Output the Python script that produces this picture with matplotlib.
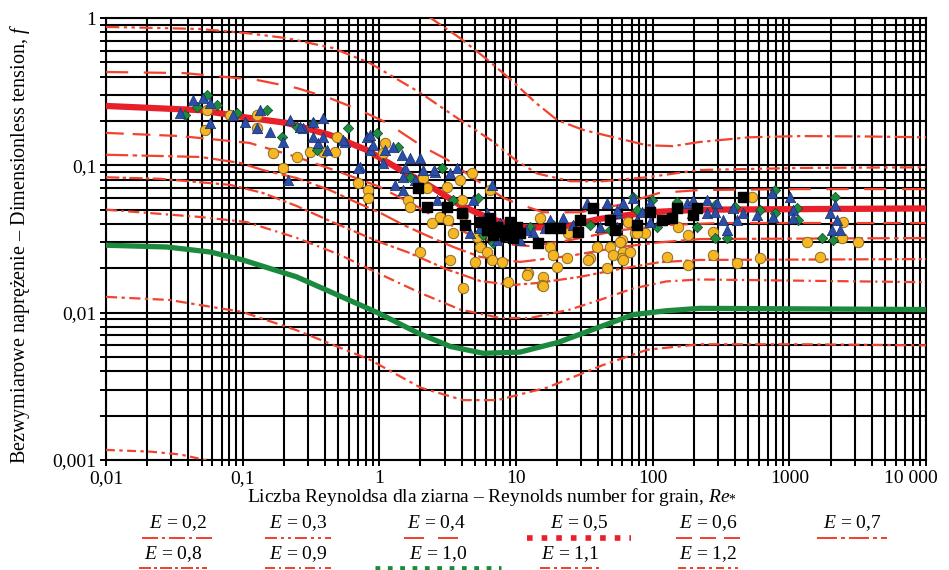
import numpy as np
import matplotlib.pyplot as plt
import matplotlib.transforms as mtransforms
from matplotlib.lines import Line2D

plt.rcParams['font.family'] = ['Liberation Serif', 'DejaVu Serif']
plt.rcParams['mathtext.fontset'] = 'custom'
plt.rcParams['mathtext.rm'] = 'Liberation Serif'
plt.rcParams['mathtext.it'] = 'Liberation Serif:italic'

# ---- curves f(Re) for each E ----
re_02 = [2.2, 3.9, 6.2, 9.5, 14, 20, 31, 55, 90, 140, 220, 510, 1200, 3700, 10000]
f_02 = [1.05, 0.73, 0.52, 0.37, 0.265, 0.203, 0.174, 0.153, 0.137, 0.135, 0.144, 0.155, 0.158, 0.157, 0.155]

re_03 = [0.01, 0.025, 0.049, 0.107, 0.21, 0.455, 0.85, 2.0, 3.9, 6.5, 10, 14.3, 25, 43, 91, 221, 1200, 10000]
f_03 = [0.87, 0.855, 0.842, 0.79, 0.73, 0.626, 0.495, 0.31, 0.203, 0.149, 0.108, 0.088, 0.078, 0.078, 0.083, 0.093, 0.096, 0.097]

re_04 = [0.01, 0.037, 0.127, 0.248, 0.433, 0.72, 1.14, 2.1, 3.15, 4.6, 8.1, 10, 15.8, 29.4, 57.6, 112, 221, 1200, 10000]
f_04 = [0.43, 0.423, 0.38, 0.335, 0.286, 0.237, 0.194, 0.133, 0.109, 0.085, 0.060, 0.0555, 0.048, 0.048, 0.054, 0.065, 0.068, 0.069, 0.069]

re_05 = [0.01, 0.049, 0.1, 0.21, 0.433, 0.81, 1.35, 2.27, 3.9, 6.5, 10.7, 20.5, 41, 93, 221, 10000]
f_05 = [0.253, 0.237, 0.213, 0.194, 0.161, 0.127, 0.096, 0.0738, 0.0537, 0.0433, 0.0382, 0.0376, 0.0433, 0.048, 0.050, 0.051]

re_06 = [0.01, 0.035, 0.112, 0.248, 0.513, 0.97, 1.69, 2.8, 4.6, 7.7, 12.7, 24.8, 57.6, 133, 309, 10000]
f_06 = [0.166, 0.158, 0.142, 0.114, 0.090, 0.0724, 0.0556, 0.0426, 0.0338, 0.0294, 0.0283, 0.0311, 0.0363, 0.0394, 0.0406, 0.0406]

re_07 = [0.01, 0.049, 0.095, 0.14, 0.248, 0.433, 0.68, 1.02, 1.5, 2.27, 3.48, 5.48, 10.7, 24.8, 57.6, 112, 221, 10000]
f_07 = [0.118, 0.114, 0.104, 0.093, 0.082, 0.068, 0.056, 0.0475, 0.0394, 0.0331, 0.0279, 0.0239, 0.0221, 0.0243, 0.0279, 0.030, 0.0316, 0.0321]

re_08 = [0.01, 0.025, 0.081, 0.14, 0.248, 0.433, 0.75, 1.02, 1.6, 3.15, 5.48, 9.4, 14.3, 29.4, 57.6, 112, 221, 10000]
f_08 = [0.083, 0.081, 0.0737, 0.065, 0.053, 0.042, 0.0338, 0.030, 0.0258, 0.0196, 0.0164, 0.0154, 0.0159, 0.0175, 0.0198, 0.0220, 0.0228, 0.0231]

re_09 = [0.01, 0.049, 0.107, 0.248, 0.513, 0.97, 2.0, 3.9, 7.7, 12.7, 24.8, 41, 72, 126, 221, 10000]
f_09 = [0.050, 0.0446, 0.0412, 0.0322, 0.0247, 0.0186, 0.0136, 0.0105, 0.0092, 0.0092, 0.0105, 0.0122, 0.0146, 0.0163, 0.0168, 0.0161]

re_10 = [0.01, 0.028, 0.058, 0.1, 0.248, 0.97, 1.9, 3.3, 5.76, 10.7, 20.5, 41, 72, 126, 221, 10000]
f_10 = [0.0287, 0.0279, 0.0258, 0.0228, 0.0175, 0.010, 0.0073, 0.0059, 0.0053, 0.0054, 0.0063, 0.0080, 0.0097, 0.0103, 0.0107, 0.0105]

re_11 = [0.01, 0.029, 0.1, 0.248, 0.85, 2.0, 4.1, 7.3, 16.9, 43, 91, 221, 1200, 10000]
f_11 = [0.0128, 0.0122, 0.0101, 0.0076, 0.0048, 0.0031, 0.00255, 0.00255, 0.0031, 0.0044, 0.0056, 0.0061, 0.0061, 0.0060]

re_12 = [0.01, 0.021, 0.035, 0.053, 0.065]
f_12 = [0.00117, 0.00114, 0.00109, 0.00100, 0.00095]

e_labels = ['0,2', '0,3', '0,4', '0,5', '0,6', '0,7', '0,8', '0,9', '1,0', '1,1', '1,2']
curves_re = [re_02, re_03, re_04, re_05, re_06, re_07, re_08, re_09, re_10, re_11, re_12]
curves_f = [f_02, f_03, f_04, f_05, f_06, f_07, f_08, f_09, f_10, f_11, f_12]

# ---- measurement points ----
blue_re = [0.0348, 0.0433, 0.0512, 0.0577, 0.085, 0.104, 0.127, 0.134, 0.158, 0.197, 0.222, 0.276, 0.327,
           0.356, 0.387, 0.414, 0.561, 0.81, 0.855, 0.722, 0.0577, 0.216, 0.263, 0.327, 0.387, 0.542, 0.855,
           0.9, 0.698, 1.1, 1.26, 1.47, 1.54, 1.49, 1.68, 1.98, 2.09, 2.55, 2.64, 3.7, 4.84, 6.67, 7.63, 7.26,
           8.6, 10.7, 13.3, 17.7, 22.1, 26.1, 33, 41.2, 46.3, 54.8, 60.7, 76.8, 95.5, 113, 134, 178, 197, 250,
           296, 71.8, 194, 250, 286, 327, 350, 387, 414, 458, 580, 746, 759, 1010, 1065, 1065, 1980, 2160,
           2230, 2050, 2350, 95.5, 54.8, 4.6, 5.45, 9.03, 11.9, 16.3, 1.31, 1.83,
           1.06, 1.49, 2.5, 3.29, 6.14, 54.8, 84]
blue_f = [0.227, 0.278, 0.286, 0.265, 0.220, 0.197, 0.179, 0.238, 0.168, 0.144, 0.203, 0.179, 0.156,
          0.142, 0.210, 0.127, 0.144, 0.156, 0.127, 0.0975, 0.194, 0.0795, 0.182, 0.197, 0.156, 0.149, 0.161,
          0.137, 0.096, 0.127, 0.133, 0.118, 0.096, 0.0833, 0.112, 0.112, 0.093, 0.090, 0.0582, 0.096, 0.0582,
          0.0736, 0.0406, 0.0311, 0.0353, 0.0311, 0.0353, 0.0426, 0.0439, 0.0394, 0.0555, 0.0382, 0.0555,
          0.0382, 0.0555, 0.0426, 0.0555, 0.0426, 0.0446, 0.0555, 0.0582, 0.0582, 0.0555, 0.060, 0.0475,
          0.0475, 0.0482, 0.0426, 0.0364, 0.0513, 0.0426, 0.0475, 0.046, 0.0649, 0.0446, 0.061, 0.0498,
          0.0439, 0.0475, 0.0538, 0.0426, 0.0364, 0.0364, 0.0412, 0.0475, 0.0348, 0.0376, 0.0332, 0.0364,
          0.0376, 0.0736, 0.0795,
          0.103, 0.068, 0.093, 0.0887, 0.0475, 0.0498, 0.0482]

green_re = [0.0379, 0.0463, 0.0548, 0.0649, 0.091, 0.151, 0.194, 0.25, 0.327, 0.35, 0.59, 0.96, 1.37, 1.68,
            2.88, 3.46, 5.27, 5.74, 6.79, 8.74, 12.7, 18.7, 34.8, 48.7, 71.8, 76.8, 211, 108, 98.9, 151, 286,
            286, 350, 400, 610, 785, 785, 1160, 1140, 1730, 2160, 2080]
green_f = [0.220, 0.249, 0.300, 0.257, 0.227, 0.238, 0.156, 0.182, 0.194, 0.127, 0.179, 0.166, 0.133, 0.0833,
           0.096, 0.0582, 0.060, 0.0337, 0.0297, 0.0327, 0.0382, 0.0394, 0.0394, 0.0364, 0.061, 0.0498,
           0.0382, 0.0382, 0.0582, 0.0564, 0.0538, 0.0321, 0.0321, 0.0521, 0.0498, 0.068, 0.0475, 0.0426,
           0.0513, 0.0321, 0.061, 0.0311]

yellow_re = [0.0548, 0.053, 0.0808, 0.127, 0.127, 0.167, 0.25, 0.311, 0.387, 0.474, 0.49, 0.197, 0.698,
             0.826, 0.826, 1.1, 1.06, 1.62, 1.68, 2.09, 2.23, 2.43, 2.78, 3.13, 3.18, 3.46, 3.89, 4.03, 4.1,
             4.76, 5.18, 5.45, 1.98, 3.29, 5.0, 6.14, 6.67, 7.9, 8.74, 4.1, 6.45, 12.2, 15.0, 15.7, 15.5, 17.7,
             18.7, 20, 23.6, 24, 34.8, 39.2, 46.3, 48.7, 51.3, 59.7, 60.7, 74.3, 87.9, 127, 181, 181, 276, 276,
             533, 153, 414, 610, 1350, 1670, 2470, 2430, 3180, 66, 76.8, 57.7, 59.7, 68.2,
             12.0, 15.7, 33.6, 60.7]
yellow_f = [0.238, 0.174, 0.220, 0.220, 0.179, 0.121, 0.114, 0.123, 0.123, 0.123, 0.156, 0.096, 0.0759,
            0.068, 0.060, 0.142, 0.121, 0.0582, 0.0521, 0.082, 0.0702, 0.0406, 0.0446, 0.0713, 0.0426, 0.0348,
            0.0795, 0.0582, 0.046, 0.0887, 0.0327, 0.0279, 0.0258, 0.0228, 0.0221, 0.0258, 0.0228, 0.0221,
            0.0162, 0.0147, 0.068, 0.0186, 0.0439, 0.0175, 0.0154, 0.0279, 0.0246, 0.0204, 0.0235, 0.0348,
            0.0235, 0.0279, 0.0201, 0.0279, 0.0246, 0.0311, 0.0258, 0.0348, 0.0348, 0.0239, 0.0211, 0.0337,
            0.0246, 0.0353, 0.061, 0.0382, 0.0217, 0.0235, 0.0302, 0.0239, 0.0412, 0.0321, 0.0302, 0.0412,
            0.0348, 0.0302, 0.0235, 0.0258,
            0.0180, 0.0152, 0.0228, 0.0228]

black_re = [1.92, 2.23, 3.13, 4.03, 4.23, 6.14, 7.26, 7.9, 8.3, 9.03, 10.2, 10.7, 14.5, 17.7, 21, 29.4, 36.6,
            48.7, 76.8, 117, 151, 211, 197, 53, 95.5, 138, 458, 5.45, 6.45, 6.79, 9.5, 28.4, 8.7]
black_f = [0.0702, 0.0521, 0.0521, 0.0475, 0.0394, 0.0364, 0.0382, 0.0353, 0.0337, 0.0412, 0.0382, 0.0348,
           0.0297, 0.0376, 0.0376, 0.0426, 0.0513, 0.0426, 0.0394, 0.0426, 0.0513, 0.0513, 0.046, 0.0364,
           0.0482, 0.0439, 0.061, 0.0412, 0.0439, 0.0337, 0.0321, 0.0353, 0.0364]

# ---- styles ----
thin = '#f2432e'
styles = [
    dict(color=thin, lw=1.6, ls=(0, (8, 2, 1.5, 2))),
    dict(color=thin, lw=1.6, ls=(0, (6, 2, 1.5, 2, 1.5, 2))),
    dict(color=thin, lw=1.6, ls=(0, (10, 7))),
    dict(color='#e8202a', lw=4.5, ls='-'),
    dict(color=thin, lw=1.6, ls=(0, (8, 4))),
    dict(color=thin, lw=1.6, ls=(0, (10, 2, 2, 2))),
    dict(color=thin, lw=1.6, ls=(0, (6, 1.5, 1.5, 1.5))),
    dict(color=thin, lw=1.6, ls=(0, (5, 2, 1, 2))),
    dict(color='#1b8a3e', lw=3.8, ls='-'),
    dict(color=thin, lw=1.6, ls=(0, (5, 2, 1.5, 2))),
    dict(color=thin, lw=1.6, ls=(0, (4, 2, 1.5, 2))),
]

fig = plt.figure(figsize=(9.49, 5.70), dpi=100)
ax = fig.add_axes([0.1117, 0.193, 0.8641, 0.7754])
ax.set_xscale('log')
ax.set_yscale('log')
ax.set_xlim(0.01, 10000)
ax.set_ylim(0.001, 1)

ax.grid(True, which='both', color='black', lw=1.5)
ax.set_axisbelow(True)

for r, f, st in zip(curves_re, curves_f, styles):
    ax.plot(r, f, color=st['color'], lw=st['lw'], linestyle=st['ls'], zorder=3)

ax.scatter(yellow_re, yellow_f, marker='o', s=56, c='#f6b722', edgecolors='#8c6a2a', linewidths=0.7, zorder=5)
ax.scatter(green_re, green_f, marker='D', s=28, c='#1d8a3f', edgecolors='#0e4a20', linewidths=0.5, zorder=6)
ax.scatter(blue_re, blue_f, marker='^', s=56, c='#2b4fa8', edgecolors='#1a2f6a', linewidths=0.5, zorder=7)
ax.scatter(black_re, black_f, marker='s', s=46, c='black', zorder=8)

ax.set_xticks([0.01, 0.1, 1, 10, 100, 1000, 10000])
ax.set_xticklabels(['0,01', '0,1', '1', '10', '100', '1000', '10 000'])
ax.set_yticks([0.001, 0.01, 0.1, 1])
ax.set_yticklabels(['0,001', '0,01', '0,1', '1'])
ax.tick_params(which='both', length=4, width=1.4, direction='out', labelsize=14, pad=3)
ax.tick_params(which='minor', labelbottom=False, labelleft=False)
last = ax.get_xticklabels()[-1]
last.set_transform(last.get_transform() + mtransforms.ScaledTranslation(-0.15, 0, fig.dpi_scale_trans))
for s in ax.spines.values():
    s.set_linewidth(1.5)

fig.text(0.5185, 0.128, r'Liczba Reynoldsa dla ziarna – Reynolds number for grain, $Re_{*}$',
         ha='center', va='center', fontsize=14)
fig.text(0.021, 0.572, r'Bezwymiarowe naprężenie – Dimensionless tension, $f$',
         ha='center', va='center', rotation=90, fontsize=14.5)

# legend below the plot: label above, line sample beneath
leg_x = [178, 298, 437, 579, 708, 852, 173, 298, 438, 570, 708]
leg_half = [36, 33, 33, 52, 32, 35, 34, 33, 63, 30, 30]
W, H = 949.0, 570.0
for i, lab in enumerate(e_labels):
    row = 0 if i < 6 else 1
    ty = 523 if row == 0 else 554
    ly = 538 if row == 0 else 568
    cx = leg_x[i]
    fig.text(cx / W, 1 - ty / H, r'$E$ = ' + lab, ha='center', va='center', fontsize=14)
    st = styles[i]
    ls = st['ls']
    if lab in ('0,5', '1,0'):
        ls = (0, (1, 1.6))
    fig.add_artist(Line2D([(cx - leg_half[i]) / W, (cx + leg_half[i]) / W], [1 - ly / H, 1 - ly / H],
                          transform=fig.transFigure, color=st['color'], lw=st['lw'] * 0.9, linestyle=ls))

fig.savefig('out.png', dpi=100)
